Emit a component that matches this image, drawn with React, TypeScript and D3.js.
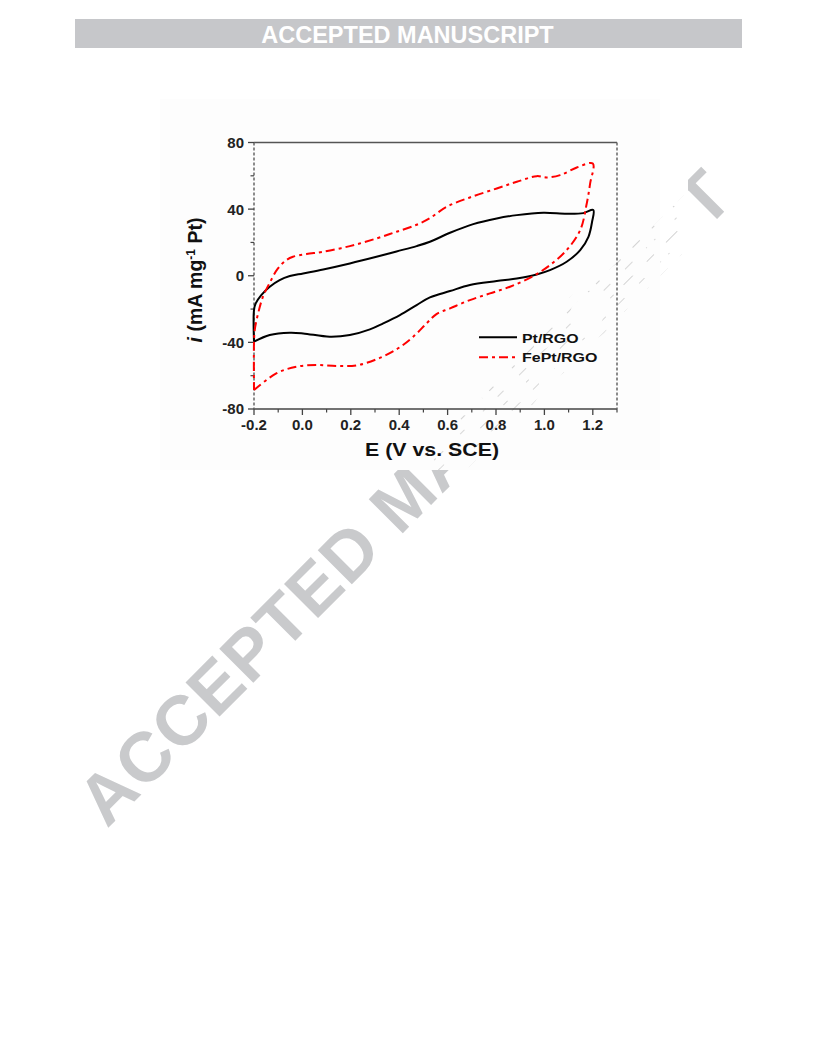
import React from "react";
import * as d3 from "d3";

// ---- data ----
const xMajorTicks = [-0.2, 0.0, 0.2, 0.4, 0.6, 0.8, 1.0, 1.2];
const xMinorTicks = [-0.1, 0.1, 0.3, 0.5, 0.7, 0.9, 1.1, 1.3];
const yMajorTicks = [-80, -40, 0, 40, 80];
const yMinorTicks = [-60, -20, 20, 60];

// Pt/RGO: lower branch (left to right), then upper branch (right to left)
const ptLower: [number, number][] = [
  [-0.2, -39.6], [-0.135, -35.6], [-0.052, -34.2], [0.003, -34.6], [0.113, -36.6],
  [0.196, -35.6], [0.279, -32.2], [0.334, -28.6], [0.403, -23.6], [0.472, -17.6],
  [0.527, -13], [0.61, -9.2], [0.692, -5.6], [0.803, -3.2], [0.886, -1.6],
  [0.968, 0.8], [1.023, 3.4], [1.092, 8.4], [1.148, 15.4], [1.182, 23.4],
  [1.197, 32.4], [1.202, 39.5],
];
const ptUpper: [number, number][] = [
  [1.161, 37.6], [1.092, 37.2], [0.996, 37.8], [0.886, 36.4], [0.803, 34.4],
  [0.706, 31], [0.61, 25.8], [0.527, 20.4], [0.472, 17.8], [0.389, 14.6],
  [0.306, 11.4], [0.196, 7.4], [0.086, 3.8], [0.003, 1.4], [-0.052, -0.2],
  [-0.094, -2.6], [-0.135, -6.6], [-0.17, -11.6], [-0.193, -16.6], [-0.2, -20.6],
  [-0.2, -39.6],
];

// FePt/RGO
const fePtLower: [number, number][] = [
  [-0.2, -68.6], [-0.108, -58.6], [-0.025, -54.6], [0.058, -53.6], [0.141, -54.2],
  [0.223, -53.8], [0.306, -50.2], [0.389, -44.2], [0.458, -36.6], [0.513, -28.6],
  [0.554, -23], [0.61, -19.6], [0.692, -14.6], [0.775, -10.6], [0.858, -6.6],
  [0.954, -0.2], [1.023, 6.4], [1.092, 15.4], [1.148, 27.4], [1.175, 43.4],
  [1.189, 55.4], [1.2, 67.4],
];
const fePtUpper: [number, number][] = [
  [1.134, 65], [1.065, 60.4], [1.01, 59], [0.968, 59.8], [0.886, 56.4],
  [0.803, 52.4], [0.692, 47], [0.596, 41.4], [0.527, 34.6], [0.472, 30.6],
  [0.389, 26.4], [0.306, 22.4], [0.196, 17.8], [0.086, 14.4], [0.017, 13],
  [-0.039, 11.4], [-0.066, 9.4], [-0.101, 4.4], [-0.135, -4.2], [-0.163, -12.6],
  [-0.183, -22.6], [-0.197, -32.6], [-0.2, -40], [-0.2, -68.6],
];

const seriesNames = ["Pt/RGO", "FePt/RGO"];
const watermarkText = "ACCEPTED MANUSCRIPT";

const FONT = "'Liberation Sans', Arial, Helvetica, sans-serif";

export default function App() {
  const x = d3.scaleLinear().domain([-0.2, 1.3]).range([254, 617]);
  const y = d3.scaleLinear().domain([-80, 80]).range([409, 142.5]);

  const line = d3
    .line<[number, number]>()
    .x((d) => x(d[0]))
    .y((d) => y(d[1]))
    .curve(d3.curveCatmullRom.alpha(0.5));

  const ptPath = line([...ptLower, ...ptUpper]) || "";
  const fePtPath = line([...fePtLower, ...fePtUpper]) || "";

  const [x0, x1] = x.range();
  const [yb, yt] = y.range();
  const fmtX = (v: number) => d3.format(".1f")(v).replace("\u2212", "-");

  const wmProps = {
    transform: "translate(107,829) rotate(-45)",
    fontSize: 70,
    fontWeight: "bold" as const,
    letterSpacing: 1,
  };

  return (
    <svg
      width={816}
      height={1056}
      style={{ position: "absolute", left: 0, top: 0 }}
      fontFamily={FONT}
    >
      <defs>
        <clipPath id="panelClip">
          <rect x={160} y={99} width={528} height={371} />
        </clipPath>
        <pattern id="wmLines" patternUnits="userSpaceOnUse" width={30} height={20}>
          <rect x={0} y={0} width={16} height={1} fill="#d2d2d2" />
          <rect x={12} y={10} width={13} height={1} fill="#d6d6d6" />
        </pattern>
      </defs>

      <rect x={0} y={0} width={816} height={1056} fill="#ffffff" />

      {/* banner */}
      <rect x={75} y={19} width={667} height={29} fill="#c6c7ca" />
      <text x={407.5} y={42.5} textAnchor="middle" fontSize={23.5} fontWeight="bold" fill="#ffffff">
        ACCEPTED MANUSCRIPT
      </text>

      {/* watermark */}
      <text {...wmProps} fill="#c9cacc">
        {watermarkText}
      </text>

      {/* figure panel covering the watermark */}
      <rect x={160} y={99} width={528} height={371} fill="#ffffff" />
      <rect x={160} y={99} width={500} height={371} fill="#fdfdfd" />
      <g clipPath="url(#panelClip)">
        <text {...wmProps} fill="url(#wmLines)">
          {watermarkText}
        </text>
      </g>

      {/* axes frame */}
      <line x1={x0} x2={x1} y1={yt} y2={yt} stroke="#555" strokeWidth={1.5} />
      <line x1={x0} x2={x1} y1={yb} y2={yb} stroke="#444" strokeWidth={1.5} />
      <line x1={x0} x2={x0} y1={yt} y2={yb} stroke="#666" strokeWidth={1.5} strokeDasharray="3,2" />
      <line x1={x1} x2={x1} y1={yt} y2={yb} stroke="#666" strokeWidth={1.5} strokeDasharray="3,2" />

      {/* x ticks */}
      {xMajorTicks.map((t) => (
        <g key={"xm" + t}>
          <line x1={x(t)} x2={x(t)} y1={yb} y2={yb + 6} stroke="#444" strokeWidth={1.3} />
          <text x={x(t)} y={430} textAnchor="middle" fontSize={15} fontWeight="bold" fill="#222">
            {fmtX(t)}
          </text>
        </g>
      ))}
      {xMinorTicks.map((t) => (
        <line key={"xn" + t} x1={x(t)} x2={x(t)} y1={yb} y2={yb + 3.5} stroke="#444" strokeWidth={1.2} />
      ))}

      {/* y ticks */}
      {yMajorTicks.map((t) => (
        <g key={"ym" + t}>
          <line x1={x0 - 6} x2={x0} y1={y(t)} y2={y(t)} stroke="#444" strokeWidth={1.3} />
          <text x={244} y={y(t)} dy="0.36em" textAnchor="end" fontSize={15} fontWeight="bold" fill="#222">
            {String(t)}
          </text>
        </g>
      ))}
      {yMinorTicks.map((t) => (
        <line key={"yn" + t} x1={x0 - 3.5} x2={x0} y1={y(t)} y2={y(t)} stroke="#444" strokeWidth={1.2} />
      ))}

      {/* axis titles */}
      <text x={432} y={456} textAnchor="middle" fontSize={19} fontWeight="bold" fill="#111" textLength={134} lengthAdjust="spacingAndGlyphs">
        E (V vs. SCE)
      </text>
      <text transform="translate(201.5,280) rotate(-90)" textAnchor="middle" fontSize={19.5} fontWeight="bold" fill="#111">
        <tspan fontStyle="italic">i</tspan>
        <tspan> (mA mg</tspan>
        <tspan dy={-7} fontSize={12}>-1</tspan>
        <tspan dy={7}> Pt)</tspan>
      </text>

      {/* curves */}
      <path d={ptPath} fill="none" stroke="#000" strokeWidth={2} strokeLinejoin="round" />
      <path d={fePtPath} fill="none" stroke="#ff0000" strokeWidth={2} strokeDasharray="9,4,3,4" strokeLinejoin="round" />

      {/* legend */}
      <line x1={479} x2={517} y1={337.3} y2={337.3} stroke="#000" strokeWidth={2} />
      <text x={522} y={342.7} fontSize={13} fontWeight="bold" fill="#111" textLength={56.5} lengthAdjust="spacingAndGlyphs">
        {seriesNames[0]}
      </text>
      <line x1={479} x2={517} y1={357.3} y2={357.3} stroke="#ff0000" strokeWidth={2} strokeDasharray="9,4,3,4" />
      <text x={522} y={362} fontSize={13} fontWeight="bold" fill="#111" textLength={75.5} lengthAdjust="spacingAndGlyphs">
        {seriesNames[1]}
      </text>
    </svg>
  );
}
